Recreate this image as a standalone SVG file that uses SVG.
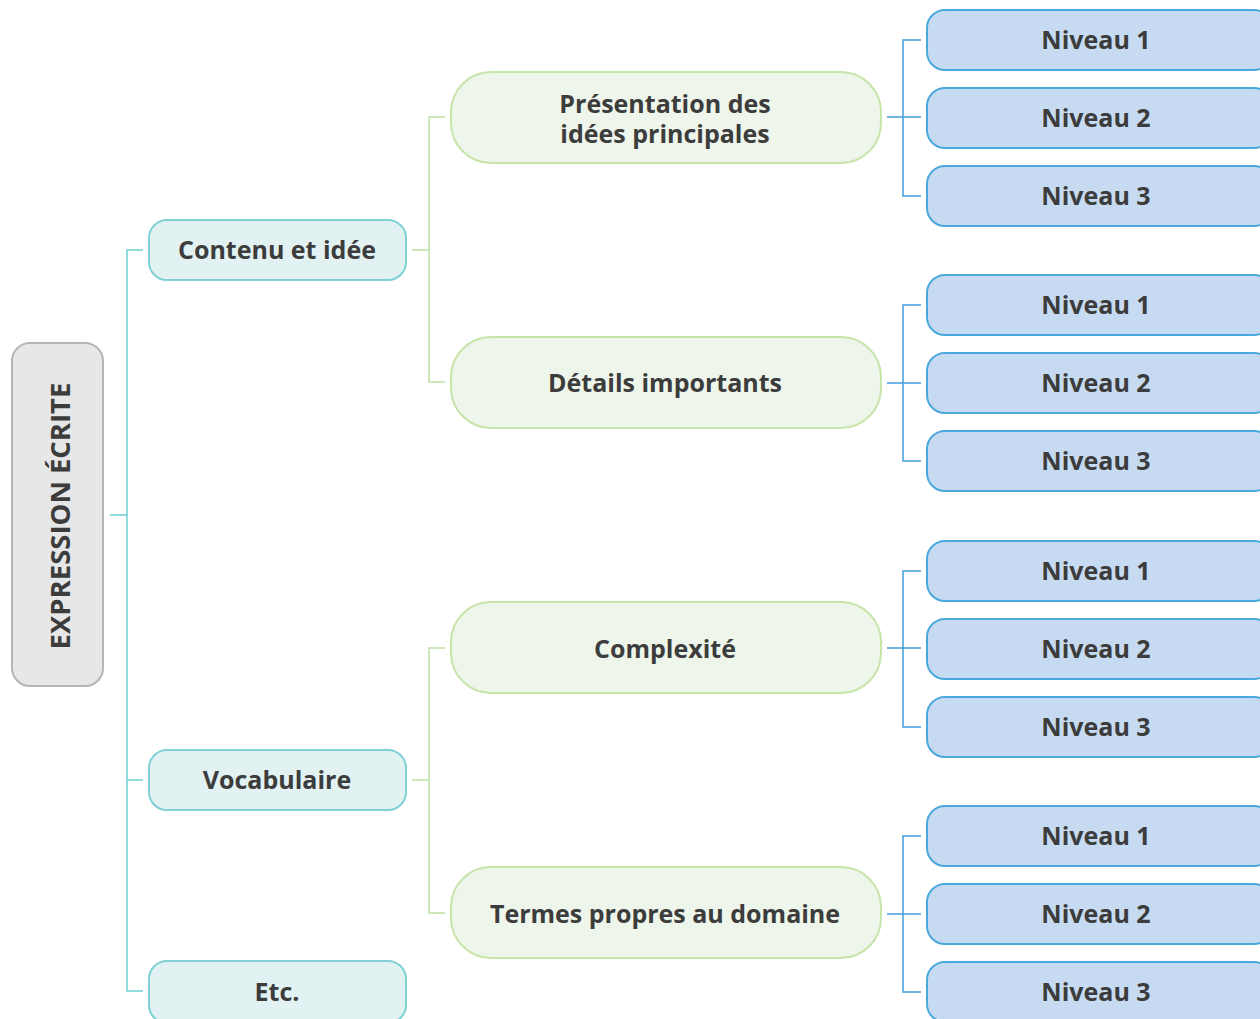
<svg xmlns="http://www.w3.org/2000/svg" width="1260" height="1019" viewBox="0 0 1260 1019">
<style>
text{font-family:"Open Sans","Liberation Sans",sans-serif;font-weight:700;fill:#3c3c3c;text-anchor:middle;font-size:25px}
.root rect{fill:#e6e7e9;stroke:#b5b5b7;stroke-width:2}
.root text{font-size:27.5px}
.l1 rect{fill:#e2f2f2;stroke:#7fd1d4;stroke-width:2}
.l2 rect{fill:#eef5ea;stroke:#c7e4a9;stroke-width:2}
.l3 rect{fill:#c6dbf1;stroke:#4ba8dc;stroke-width:2}
.c1{stroke:#6fcfd2;stroke-width:1.5;fill:none}
.c2{stroke:#bde0a3;stroke-width:1.5;fill:none}
.c3{stroke:#3fa0da;stroke-width:1.5;fill:none}
</style>
<g id="connectors">
<path class="c1" d="M110 515H127M143 250H127V991H143M127 780H143"/>
<path class="c2" d="M412 250H429M445 117H429V382H445M412 780H429M445 648H429V913H445"/>
<path class="c3" d="M887 117H921M921 40H903V196H921"/>
<path class="c3" d="M887 383H921M921 305H903V461H921"/>
<path class="c3" d="M887 648H921M921 571H903V727H921"/>
<path class="c3" d="M887 914H921M921 836H903V992H921"/>
</g>
<g id="root" class="root"><rect x="12" y="343" width="91" height="343" rx="18"/><text transform="translate(70 516) rotate(-90)">EXPRESSION ÉCRITE</text></g>
<g id="contenu" class="l1"><rect x="149" y="220" width="257" height="60" rx="18"/><text x="277" y="259">Contenu et idée</text></g>
<g id="vocabulaire" class="l1"><rect x="149" y="750" width="257" height="60" rx="18"/><text x="277" y="789">Vocabulaire</text></g>
<g id="etc" class="l1"><rect x="149" y="961" width="257" height="62" rx="18"/><text x="277" y="1001">Etc.</text></g>
<g id="presentation" class="l2"><rect x="451" y="72" width="430" height="91" rx="40"/><text x="665" y="113">Présentation des<tspan x="665" dy="30">idées principales</tspan></text></g>
<g id="details" class="l2"><rect x="451" y="337" width="430" height="91" rx="40"/><text x="665" y="392">Détails importants</text></g>
<g id="complexite" class="l2"><rect x="451" y="602" width="430" height="91" rx="40"/><text x="665" y="658">Complexité</text></g>
<g id="termes" class="l2"><rect x="451" y="867" width="430" height="91" rx="40"/><text x="665" y="923">Termes propres au domaine</text></g>
<g id="n1a" class="l3"><rect x="927" y="10" width="345" height="60" rx="18"/><text x="1096" y="49">Niveau 1</text></g>
<g id="n2a" class="l3"><rect x="927" y="88" width="345" height="60" rx="18"/><text x="1096" y="127">Niveau 2</text></g>
<g id="n3a" class="l3"><rect x="927" y="166" width="345" height="60" rx="18"/><text x="1096" y="205">Niveau 3</text></g>
<g id="n1b" class="l3"><rect x="927" y="275" width="345" height="60" rx="18"/><text x="1096" y="314">Niveau 1</text></g>
<g id="n2b" class="l3"><rect x="927" y="353" width="345" height="60" rx="18"/><text x="1096" y="392">Niveau 2</text></g>
<g id="n3b" class="l3"><rect x="927" y="431" width="345" height="60" rx="18"/><text x="1096" y="470">Niveau 3</text></g>
<g id="n1c" class="l3"><rect x="927" y="541" width="345" height="60" rx="18"/><text x="1096" y="580">Niveau 1</text></g>
<g id="n2c" class="l3"><rect x="927" y="619" width="345" height="60" rx="18"/><text x="1096" y="658">Niveau 2</text></g>
<g id="n3c" class="l3"><rect x="927" y="697" width="345" height="60" rx="18"/><text x="1096" y="736">Niveau 3</text></g>
<g id="n1d" class="l3"><rect x="927" y="806" width="345" height="60" rx="18"/><text x="1096" y="845">Niveau 1</text></g>
<g id="n2d" class="l3"><rect x="927" y="884" width="345" height="60" rx="18"/><text x="1096" y="923">Niveau 2</text></g>
<g id="n3d" class="l3"><rect x="927" y="962" width="345" height="60" rx="18"/><text x="1096" y="1001">Niveau 3</text></g>
</svg>
